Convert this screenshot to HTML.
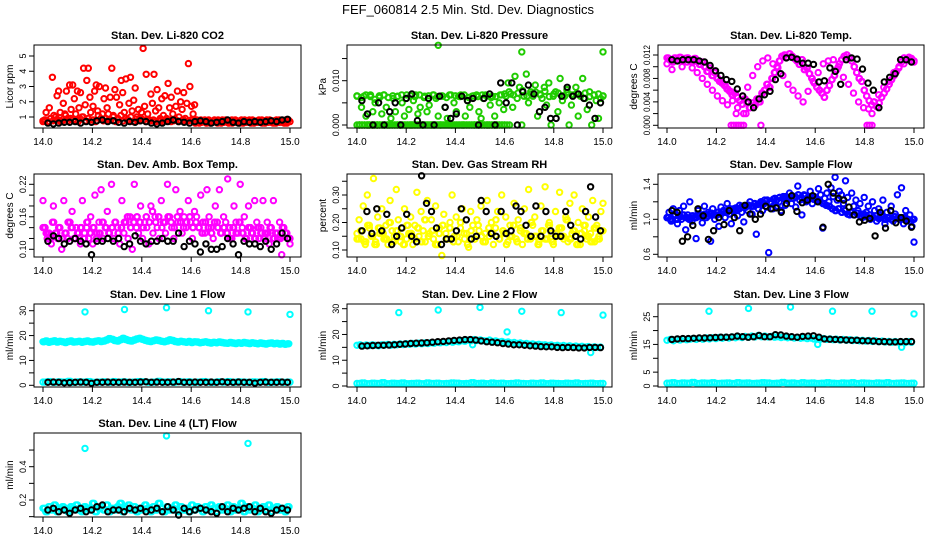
<!DOCTYPE html>
<html><head><meta charset="utf-8"><style>
html,body{margin:0;padding:0;background:#fff}
svg{display:block}
text{font-family:"Liberation Sans",Arial,sans-serif}
</style></head><body>
<svg id="chart" width="936" height="540" viewBox="0 0 936 540" xmlns="http://www.w3.org/2000/svg">
<rect x="0" y="0" width="936" height="540" fill="#fff"/>
<text x="468" y="14" text-anchor="middle" font-size="13">FEF_060814  2.5 Min. Std. Dev. Diagnostics</text>
</svg>
<script>
// ---- data arrays ----
const xTicks=[14.0,14.2,14.4,14.6,14.8,15.0];
const xTickLabels=['14.0','14.2','14.4','14.6','14.8','15.0'];

const co2Red=[0.7,0.8,1.3,0.7,1.6,0.9,3.6,1.1,0.8,2.4,2.7,1.3,0.7,1.9,1.2,2.7,0.9,3.1,1.5,3.1,2.2,0.8,2.7,1.6,2.6,1.0,4.2,1.8,3.4,4.2,2.3,0.8,1.7,2.7,3.1,1.4,3.0,0.9,1.2,2.2,2.9,1.6,0.8,2.3,4.2,1.1,2.8,2.3,0.9,1.8,3.4,2.6,1.3,3.5,0.8,1.9,3.6,1.4,2.1,2.9,1.0,1.5,0.9,1.3,5.5,1.7,3.8,1.2,0.8,2.5,1.9,3.8,1.4,2.8,1.6,0.9,2.2,1.1,2.4,0.9,3.2,1.6,2.3,1.2,0.8,1.7,2.7,1.0,2.0,1.5,2.6,0.9,1.9,4.5,3.0,1.7,1.2,1.8,0.8,
0.7,0.6,0.8,0.7,0.75,0.65,0.7,0.8,0.6,0.7,0.75,0.7,0.65,0.8,0.7,0.6,0.75,0.7,0.8,0.65,0.7,0.75,0.6,0.7,0.8,0.7,0.65,0.75,0.7,0.6,0.8,0.7,0.75,0.65,0.7,0.8,0.6,0.7,0.75,0.7,0.65,0.8,0.7,0.6,0.75,0.7,0.8,0.65,0.7,0.75,0.6,0.7,0.8,0.7,0.65,0.75,0.7,0.6,0.8,0.7];
const co2RedBase=[0.75,0.8,0.7,0.9,0.75,1.0,0.8,0.7,0.85,1.1,0.75,0.9,0.8,1.2,0.7,0.85,1.0,0.75,0.9,1.3,0.8,0.7,1.1,0.85,0.75,0.9,1.2,0.8,1.0,0.7,0.85,1.1,0.75,0.9,0.8,1.0,0.7,0.85,0.75,0.9,0.8,0.7,0.85,0.75,0.8,0.7,0.75,0.8,0.7,0.75,0.8,0.7,0.75,0.8,0.7,0.75,0.8,0.7,0.75,0.8];
const co2Black=[0.6,0.55,0.6,0.65,0.65,0.7,0.6,0.7,0.65,0.75,0.8,0.7,0.75,0.65,0.6,0.7,0.65,0.75,0.7,0.6,0.55,0.6,0.7,0.8,0.7,0.65,0.6,0.7,0.75,0.7,0.6,0.65,0.7,0.8,0.65,0.6,0.7,0.65,0.7,0.65,0.7,0.75,0.7,0.8,0.85];

const presGreen=[0.0065,0,0.004,0.0065,0.002,0,0.0068,0.003,0.005,0,0.0062,0.0025,0.0068,0.004,0,0.0015,0.006,0.003,0.0065,0,0.005,0.002,0.0068,0.0035,0,0.0055,0.0068,0.0025,0.004,0,0.0065,0.003,0.0045,0,0.0068,0.006,0.002,0,0.0065,0.004,0.0015,0.0068,0,0.005,0.003,0.0065,0.0068,0,0.002,0.0055,0.004,0.0065,0,0.0068,0.003,0.0015,0.006,0.0068,0,0.0045,0.0065,0.002,0,0.005,0.0068,0.0035,
0.0065,0.0095,0.007,0.004,0.011,0.006,0.0085,0,0.0065,0.0115,0.005,0.0075,0.0065,0.009,0.002,0.007,0.006,0.0085,0.0045,0.0095,0,0.0065,0.0075,0.003,0.0105,0.0055,0.0065,0.008,0,0.0045,0.0068,0.0085,0.002,0.0065,0.0105,0.006,0.0035,0.0075,0,0.0068,0.0055,0.0015,0.006,0.0065];
const presGreen2=[0.0066,0.0062,0.0068,0.0064,0.0058,0.0066,0.0068,0.0062,0.0066,0.0064,0.0068,0.006,0.0066,0.0064,0.0068,0.0062,0.0066,0.0068,0.0064,0.0066,0.0062,0.0068,0.0066,0.0064,0.0068,0.0062,0.0066,0.0064,0.0068,0.0066,0.0062,0.0064,0.0068,0.007,0.0075,0.0068,0.0072,0.0078,0.0065,0.007,0.0074,0.0068,0.0076,0.0064,0.007,0.0072,0.0066,0.0074,0.0068,0.007,0.0066,0.0072,0.0064,0.0068,0.007,0.0066];
const presGreenZero=[0,0,0,0,0,0,0,0,0,0,0,0,0,0,0,0,0,0,0,0,0,0,0,0,0,0,0,0,0,0,0,0,0,0,0,0,0,0,0,0,0,0,0,0,0,0,0,0,0,0,0,0,0,0,0,0,0,0,0,0];
const presOutX=[14.33,14.67,15.0];
const presOutY=[0.018,0.0165,0.0165];
const presBlack=[0.0055,0.0025,0,0.005,0,0.003,0.005,0,0.006,0.007,0.001,0,0.006,0,0.0065,0.004,0.0015,0.0025,0.0065,0.0055,0.006,0,0.006,0.007,0,0.0095,0.005,0.0095,0,0.0075,0.009,0.007,0.003,0.004,0.0015,0.0015,0.0065,0.0085,0.0065,0.007,0.006,0.0045,0.0015,0.005];

const tempMag=[0.0115,0.0112,0.0108,0.0115,0.0112,0.0116,0.0110,0.0114,0.0115,0.0112,0.0108,0.0114,0.0110,0.0104,0.0108,0.0100,0.0092,0.0098,0.0085,0.0090,0.0080,0.0075,0.0072,0.0068,0.0062,0.0058,0.0052,0.0055,0.0048,0.0042,0.0036,0.0045,0.0040,0.0030,0.0038,0.0034,0.0045,0.0040,0.0055,0.0060,0.0070,0.0065,0.0080,0.0090,0.0100,0.0110,0.0118,0.0120,0.0116,0.0122,0.0118,0.0114,0.0110,0.0104,0.0112,0.0095,0.0098,0.0088,0.0080,0.0072,0.0065,0.0060,0.0055,0.0048,0.0060,0.0068,0.0078,0.0085,0.0095,0.0105,0.0112,0.0118,0.0120,0.0115,0.0110,0.0100,0.0090,0.0080,0.0075,0.0060,0.0050,0.0042,0.0035,0.0040,0.0032,0.0038,0.0048,0.0055,0.0062,0.0070,0.0078,0.0085,0.0092,0.0100,0.0108,0.0115,0.0112,0.0116,0.0114,0.0110];
const tempMag2=[0.0105,0.0095,0.0112,0.0100,0.0108,0.0098,0.0090,0.0080,0.0070,0.0060,0.0050,0.0042,0.0035,0.0042,0.0030,0.0050,0.0065,0.0085,0.0100,0.0110,0.0115,0.0105,0.0098,0.0085,0.0070,0.0060,0.0050,0.0040,0.0058,0.0075,0.0090,0.0105,0.0110,0.0112,0.0100,0.0082,0.0070,0.0055,0.0040,0.0030,0.0028,0.0040,0.0052,0.0065,0.0075,0.0090,0.0098,0.0105,0.0112,0.0108];
const tempOutX=[14.26,14.27,14.28,14.29,14.30,14.31,14.38,14.81,14.82,14.83,14.28,14.31,14.32,14.83];
const tempOutY=[0,0,0,0,0,0,0,0,0,0,0.002,0.002,0.002,0.002];
const tempBlack=[0.0112,0.0110,0.0112,0.0112,0.0112,0.0110,0.0108,0.0102,0.0093,0.0085,0.0078,0.0075,0.0062,0.0050,0.0040,0.0030,0.0045,0.0052,0.0058,0.0078,0.0088,0.0115,0.0116,0.0113,0.0106,0.0106,0.0104,0.0074,0.0076,0.0098,0.0092,0.0070,0.0112,0.0115,0.0113,0.0096,0.0072,0.0060,0.0030,0.0074,0.0082,0.0088,0.0112,0.0112,0.0108];

const ambMag=[0.19,0.14,0.12,0.13,0.11,0.18,0.13,0.12,0.14,0.10,0.19,0.13,0.12,0.15,0.17,0.12,0.14,0.13,0.11,0.19,0.13,0.14,0.12,0.16,0.11,0.20,0.13,0.15,0.21,0.12,0.14,0.17,0.13,0.22,0.12,0.15,0.14,0.11,0.19,0.13,0.15,0.12,0.16,0.10,0.22,0.14,0.13,0.18,0.12,0.15,0.14,0.11,0.18,0.13,0.16,0.14,0.12,0.19,0.15,0.13,0.22,0.16,0.14,0.12,0.21,0.15,0.17,0.13,0.16,0.14,0.19,0.15,0.12,0.17,0.16,0.14,0.20,0.15,0.13,0.21,0.16,0.14,0.12,0.18,0.15,0.21,0.13,0.16,0.15,0.23,0.14,0.12,0.18,0.15,0.13,0.22,0.14,0.16,0.12,0.18,0.14,0.13,0.19,0.15,0.12,0.14,0.19,0.13,0.15,0.11,0.14,0.19,0.13,0.12,0.15,0.09,0.14,0.13,0.12,0.11];
const ambMag2=[0.14,0.13,0.12,0.15,0.13,0.14,0.12,0.13,0.15,0.14,0.12,0.13,0.14,0.12,0.15,0.13,0.14,0.12,0.13,0.15,0.14,0.13,0.14,0.15,0.13,0.14,0.15,0.16,0.14,0.15,0.16,0.15,0.14,0.16,0.15,0.17,0.15,0.16,0.14,0.15,0.16,0.15,0.14,0.16,0.15,0.14,0.15,0.16,0.14,0.15,0.14,0.13,0.15,0.14,0.13,0.15,0.14,0.13,0.14,0.13,0.12,0.14,0.13,0.15,0.13,0.12,0.14,0.13,0.12,0.14,0.13,0.12,0.13,0.14,0.12,0.13,0.12,0.14,0.13,0.12];
const ambBlack=[0.115,0.125,0.12,0.11,0.115,0.12,0.115,0.11,0.09,0.115,0.115,0.12,0.115,0.12,0.105,0.11,0.125,0.115,0.11,0.115,0.115,0.12,0.115,0.115,0.13,0.105,0.115,0.11,0.095,0.11,0.1,0.1,0.105,0.12,0.11,0.09,0.115,0.11,0.11,0.105,0.115,0.1,0.11,0.13,0.12];

const rhYellow=[0.16,0.21,0.14,0.26,0.12,0.30,0.18,0.15,0.36,0.13,0.22,0.16,0.25,0.14,0.19,0.12,0.28,0.17,0.15,0.32,0.21,0.13,0.18,0.25,0.14,0.16,0.22,0.12,0.19,0.31,0.15,0.24,0.17,0.13,0.28,0.16,0.21,0.14,0.26,0.12,0.18,0.08,0.23,0.16,0.14,0.20,0.30,0.15,0.22,0.13,0.18,0.25,0.14,0.16,0.11,0.24,0.19,0.14,0.21,0.17,0.26,0.13,0.16,0.28,0.15,0.20,0.12,0.18,0.24,0.14,0.30,0.16,0.22,0.13,0.19,0.15,0.27,0.14,0.21,0.17,0.12,0.25,0.16,0.32,0.14,0.19,0.22,0.15,0.13,0.26,0.17,0.33,0.14,0.20,0.16,0.12,0.24,0.15,0.31,0.18,0.14,0.22,0.13,0.27,0.16,0.30,0.15,0.20,0.12,0.25,0.17,0.14,0.22,0.16,0.28,0.13,0.19,0.15,0.24,0.27];
const rhYellow2=[0.14,0.17,0.13,0.19,0.15,0.12,0.18,0.16,0.14,0.20,0.13,0.17,0.15,0.12,0.19,0.16,0.14,0.18,0.13,0.21,0.15,0.17,0.12,0.16,0.19,0.14,0.18,0.13,0.15,0.20,0.16,0.12,0.17,0.14,0.19,0.15,0.13,0.18,0.16,0.21,0.14,0.17,0.12,0.15,0.19,0.13,0.18,0.16,0.14,0.20,0.15,0.12,0.17,0.14,0.19,0.13,0.16,0.18,0.15,0.21,0.14,0.17,0.12,0.16,0.19,0.15,0.13,0.18,0.14,0.17];
const rhBlack=[0.17,0.24,0.16,0.25,0.17,0.23,0.12,0.15,0.18,0.23,0.15,0.13,0.37,0.27,0.24,0.18,0.12,0.14,0.14,0.17,0.25,0.21,0.14,0.15,0.28,0.24,0.16,0.15,0.24,0.16,0.17,0.26,0.24,0.19,0.15,0.26,0.15,0.24,0.17,0.15,0.15,0.24,0.19,0.15,0.14,0.24,0.33,0.22,0.17];

const flowBlue=[1.02,1.08,0.98,1.12,1.05,0.95,1.10,1.00,1.15,0.88,1.05,1.20,0.98,1.02,0.78,1.10,1.05,0.96,1.15,1.02,1.08,0.75,1.12,1.00,1.05,0.92,1.14,1.08,1.02,1.18,1.06,0.95,1.12,1.10,1.04,1.16,1.08,0.97,1.14,1.10,1.20,1.06,1.15,0.83,1.12,1.18,1.10,1.22,1.14,0.62,1.18,1.12,1.24,1.15,1.20,1.10,1.26,1.16,1.22,1.30,1.18,1.24,1.14,1.38,1.22,1.05,1.28,1.20,1.25,1.32,1.18,1.26,1.22,1.35,1.28,0.90,1.24,1.30,1.20,1.36,1.26,1.48,1.22,1.32,1.28,1.18,1.44,1.25,1.05,1.30,1.15,1.22,1.10,1.18,1.02,1.25,1.08,1.15,1.00,1.20,1.10,0.98,1.12,1.05,1.22,0.95,1.08,1.02,1.15,0.98,1.06,1.28,1.02,1.36,0.95,1.10,1.00,1.05,0.92,0.74];
const flowBlue2=[1.02,1.0,1.04,1.0,1.03,1.05,1.02,1.0,1.04,1.02,1.05,1.03,1.06,1.04,1.07,1.05,1.08,1.06,1.1,1.08,1.12,1.1,1.13,1.12,1.15,1.14,1.16,1.15,1.18,1.17,1.2,1.18,1.22,1.2,1.23,1.22,1.25,1.24,1.26,1.25,1.27,1.26,1.28,1.25,1.27,1.24,1.26,1.23,1.22,1.2,1.18,1.16,1.15,1.12,1.1,1.12,1.08,1.1,1.06,1.08,1.05,1.07,1.04,1.06,1.03,1.05,1.02,1.04,1.01,1.03,1.0,1.02,1.0,1.03,1.01,1.0,1.02,1.0,0.98,1.0];
const flowBlack=[1.1,1.08,0.75,0.80,0.93,1.12,1.04,0.77,0.87,1.02,0.94,1.10,1.02,0.87,1.16,1.06,1.00,1.06,1.15,1.12,1.13,1.08,1.18,1.27,1.09,1.19,1.22,1.27,1.20,0.91,1.40,1.30,1.24,1.22,1.14,1.05,0.97,0.99,1.01,0.81,1.08,0.90,1.10,0.96,1.02,0.98,0.91];

const l1Cyan=[17.5,17.8,17.3,17.6,17.9,17.4,17.7,17.5,17.2,17.6,17.8,17.4,17.5,17.7,17.3,17.6,17.8,17.5,17.4,17.7,17.9,17.6,17.8,18.2,18.8,18.5,18.0,17.8,18.3,18.9,18.4,18.0,17.8,18.2,18.6,18.9,18.5,18.1,17.8,17.6,17.9,18.2,18.0,17.7,17.5,17.8,18.3,18.0,17.6,17.4,17.7,17.5,17.3,17.6,17.2,17.5,17.4,17.1,17.3,17.5,17.2,17.0,17.3,17.1,17.4,17.2,17.0,16.9,17.2,17.0,16.8,17.1,16.9,17.2,17.0,16.8,17.1,16.9,16.7,17.0,16.8,16.6,16.9,17.0,16.7,16.9,16.6,16.8,16.5,16.7];
const l1CyanLow=[1.3,1.5,1.2,1.4,1.3,1.6,1.2,1.4,1.3,1.5,1.2,1.3,1.4,1.2,1.5,1.3,1.4,1.2,1.3,1.5,1.4,1.2,1.3,1.6,1.3,1.4,1.2,1.5,1.3,1.4,1.2,1.3,1.5,1.3,1.2,1.4,1.3,1.5,1.2,1.4,1.3,1.2,1.4,1.3,1.5,1.2,1.3,1.4,1.2,1.3];
const l1OutX=[14.17,14.33,14.5,14.67,14.83,15.0];
const l1OutY=[29.5,30.5,31.2,30.0,29.5,28.5];
const l1Black=[1.2,1.3,1.2,1.0,1.1,1.2,1.3,1.2,0.8,1.2,1.2,1.3,1.2,1.2,1.3,1.2,1.2,1.3,1.4,1.2,1.3,1.2,1.2,1.3,1.5,1.2,1.2,1.3,1.2,1.2,1.3,1.2,1.4,1.2,1.2,1.3,1.2,1.2,0.9,1.2,1.3,1.2,1.2,1.3,1.2];

const l2Cyan=[15.8,16.0,15.6,15.9,15.7,16.0,15.8,15.6,16.0,15.9,16.1,15.8,16.2,16.0,16.3,16.1,16.4,16.2,16.5,16.3,16.6,16.4,16.7,16.5,16.8,16.6,17.0,16.8,17.1,16.9,17.3,17.0,17.4,17.2,17.6,17.4,17.8,17.6,18.0,17.7,17.9,17.6,17.5,17.8,17.3,17.5,17.1,17.3,16.9,17.1,16.7,16.9,16.5,16.7,16.3,16.5,16.2,16.3,16.0,16.2,15.9,16.0,15.7,15.9,15.6,15.8,15.5,15.7,15.4,15.6,15.3,15.5,15.2,15.4,15.1,15.3,15.0,15.2,15.0,15.1];
const l2CyanLow=[1.0,1.2,0.9,1.1,1.0,1.3,0.9,1.1,1.0,1.2,0.9,1.0,1.1,0.9,1.2,1.0,1.1,0.9,1.0,1.2,1.1,0.9,1.0,1.3,1.0,1.1,0.9,1.2,1.0,1.1,0.9,1.0,1.2,1.0,0.9,1.1,1.0,1.2,0.9,1.1,1.0,0.9,1.1,1.0,1.2,0.9,1.0,1.1,0.9,1.0];
const l2OutX=[14.17,14.33,14.5,14.67,14.83,15.0,14.61,14.47,14.95];
const l2OutY=[28.5,29.5,30.5,29.0,28.5,27.5,21.0,16.0,13.0];
const l2Black=[15.5,15.6,15.7,15.8,15.8,15.9,16.0,16.2,16.3,16.5,16.6,16.7,16.8,17.0,17.2,17.3,17.5,17.7,17.8,18.0,18.0,17.8,17.5,17.2,17.0,16.8,16.5,16.3,16.0,16.0,15.8,15.6,15.5,15.3,15.2,15.2,15.0,14.9,15.0,14.9,14.8,14.8,15.0,15.0,14.9];

const l3Cyan=[16.5,16.8,16.3,16.9,16.6,17.0,16.7,16.9,17.1,16.8,17.2,16.9,17.3,17.0,17.4,17.1,17.5,17.2,17.6,17.3,17.7,17.4,17.8,17.5,17.9,17.6,18.0,17.7,18.2,17.8,18.0,17.7,17.9,17.6,17.8,17.5,17.7,17.4,17.6,17.3,17.5,17.2,17.4,17.1,17.3,17.0,17.2,16.9,17.1,16.8,17.0,16.7,16.9,16.6,16.8,16.5,16.7,16.4,16.6,16.3,16.5,16.2,16.4,16.1,16.3,16.0,16.2,15.9,16.1,15.8,16.0,15.8,15.9,15.7,16.0,15.8];
const l3CyanLow=[1.0,1.2,0.9,1.1,1.0,1.3,0.9,1.1,1.0,1.2,0.9,1.0,1.1,0.9,1.2,1.0,1.1,0.9,1.0,1.2,1.1,0.9,1.0,1.3,1.0,1.1,0.9,1.2,1.0,1.1,0.9,1.0,1.2,1.0,0.9,1.1,1.0,1.2,0.9,1.1,1.0,0.9,1.1,1.0,1.2,0.9,1.0,1.1,0.9,1.0];
const l3OutX=[14.17,14.33,14.5,14.67,14.83,15.0,14.61,14.95];
const l3OutY=[27.0,28.0,28.5,27.0,27.0,26.0,15.0,14.0];
const l3Black=[16.8,17.0,17.1,17.1,17.2,17.3,17.3,17.4,17.5,17.6,17.6,17.7,18.0,17.8,17.6,17.8,18.2,17.8,17.8,18.5,18.4,18.0,17.8,17.6,17.9,18.0,18.1,17.6,17.0,16.9,16.8,16.7,16.6,16.5,16.5,16.3,16.3,16.2,16.0,16.0,15.9,15.9,16.0,16.0,16.0];

const l4Cyan=[0.15,0.13,0.16,0.14,0.17,0.13,0.15,0.16,0.14,0.13,0.16,0.15,0.17,0.14,0.13,0.16,0.15,0.14,0.18,0.13,0.15,0.16,0.14,0.17,0.13,0.15,0.14,0.16,0.18,0.13,0.15,0.17,0.14,0.16,0.13,0.15,0.14,0.17,0.15,0.13,0.16,0.14,0.18,0.15,0.13,0.16,0.14,0.15,0.17,0.13,0.16,0.14,0.15,0.13,0.17,0.14,0.16,0.15,0.13,0.16,0.14,0.17,0.15,0.13,0.16,0.14,0.15,0.17,0.13,0.16,0.14,0.15,0.18,0.13,0.16,0.14,0.15,0.17,0.13,0.15,0.16,0.14,0.17,0.13,0.15,0.16,0.14,0.15,0.13,0.16];
const l4OutX=[14.17,14.5,14.83];
const l4OutY=[0.51,0.585,0.54];
const l4Black=[0.14,0.15,0.13,0.14,0.12,0.14,0.15,0.13,0.14,0.16,0.17,0.13,0.14,0.14,0.13,0.15,0.14,0.15,0.13,0.14,0.15,0.13,0.16,0.14,0.11,0.15,0.13,0.14,0.15,0.14,0.13,0.12,0.16,0.13,0.15,0.14,0.15,0.16,0.13,0.15,0.13,0.12,0.14,0.15,0.14];

// ---- layout (positions only) ----
const cols=[{x0:43,x1:290,L:34,R:301},{x0:357,x1:603,L:347,R:612},{x0:667,x1:914,L:658,R:924}];
const rows=[{T:45,B:128},{T:174,B:257},{T:304,B:387},{T:433,B:517}];
const C={red:'#ff0000',green:'#1fcc00',mag:'#ff00ff',yel:'#ffff00',blue:'#0000ff',cyan:'#00ffff',blk:'#000000'};

function ev(arr,a,b){return arr.map((v,i)=>({x:a+(b-a)*i/(arr.length-1),y:v}));}
function xy(xs,ys){return xs.map((x,i)=>({x:x,y:ys[i]}));}

const panels=[
 {id:'co2',title:'Stan. Dev. Li-820 CO2',ylab:'Licor ppm',c:0,r:0,ya:[1,117],yb:[5,56],ticks:[1,2,3,4,5],tl:['1','2','3','4','5'],
  series:[[ev(co2RedBase,14,14.6),C.red],[ev(co2Red,14,15),C.red],[ev(co2Red.slice(99),14.61,14.99),C.red],[ev(co2Black,14.02,14.99),C.blk]]},
 {id:'pressure',title:'Stan. Dev. Li-820 Pressure',ylab:'kPa',c:1,r:0,ya:[0,125],yb:[0.01,80.7],ticks:[0,0.005,0.01,0.015],tl:['0.000','','0.010',''],
  series:[[ev(presGreenZero,14,14.6),C.green],[ev(presGreenZero,14.01,14.62),C.green],[ev(presGreen2,14,15),C.green],[ev(presGreen,14,15),C.green],[xy(presOutX,presOutY),C.green],[ev(presBlack,14.02,14.99),C.blk]]},
 {id:'temp',title:'Stan. Dev. Li-820 Temp.',ylab:'degrees C',c:2,r:0,ya:[0,125.3],yb:[0.012,55],ticks:[0,0.002,0.004,0.006,0.008,0.010,0.012],tl:['0.000','','0.004','','0.008','','0.012'],tlw:20,
  series:[[ev(tempMag,14,15),C.mag],[ev(tempMag,14.005,15.0),C.mag],[ev(tempMag2,14,15),C.mag],[xy(tempOutX,tempOutY),C.mag],[ev(tempBlack,14.02,14.99),C.blk]]},
 {id:'ambbox',title:'Stan. Dev. Amb. Box Temp.',ylab:'degrees C',c:0,r:1,ya:[0.10,249.3],yb:[0.22,184.3],ticks:[0.10,0.12,0.14,0.16,0.18,0.20,0.22],tl:['0.10','','','0.16','','','0.22'],
  series:[[ev(ambMag2,14,15),C.mag],[ev(ambMag2,14.006,14.994),C.mag],[ev(ambMag,14,15),C.mag],[ev(ambBlack,14.02,14.99),C.blk]]},
 {id:'rh',title:'Stan. Dev. Gas Stream RH',ylab:'percent',c:1,r:1,ya:[0.10,250],yb:[0.30,195],ticks:[0.10,0.15,0.20,0.25,0.30,0.35],tl:['0.10','','0.20','','0.30',''],
  series:[[ev(rhYellow2,14,15),C.yel],[ev(rhYellow2,14.007,14.993),C.yel],[ev(rhYellow,14,15),C.yel],[ev(rhBlack,14.02,14.99),C.blk]]},
 {id:'sampleflow',title:'Stan. Dev. Sample Flow',ylab:'ml/min',c:2,r:1,ya:[0.6,254.3],yb:[1.4,184.3],ticks:[0.6,0.8,1.0,1.2,1.4],tl:['0.6','','1.0','','1.4'],
  series:[[ev(flowBlue2,14,15),C.blue],[ev(flowBlue2,14.006,14.994),C.blue],[ev(flowBlue,14,15),C.blue],[ev(flowBlack,14.02,14.99),C.blk]]},
 {id:'line1',title:'Stan. Dev. Line 1 Flow',ylab:'ml/min',c:0,r:2,ya:[0,385.3],yb:[30,310.7],ticks:[0,5,10,15,20,25,30],tl:['0','','10','','20','','30'],
  series:[[ev(l1Cyan,14,14.99),C.cyan],[ev(l1Cyan,14.005,14.995),C.cyan],[ev(l1CyanLow,14,14.99),C.cyan],[ev(l1CyanLow,14.01,15.0),C.cyan],[xy(l1OutX,l1OutY),C.cyan],[ev(l1Black,14.02,14.99),C.blk]]},
 {id:'line2',title:'Stan. Dev. Line 2 Flow',ylab:'ml/min',c:1,r:2,ya:[0,386],yb:[30,308.7],ticks:[0,5,10,15,20,25,30],tl:['0','','10','','20','','30'],
  series:[[ev(l2Cyan,14,14.99),C.cyan],[ev(l2CyanLow,14,14.99),C.cyan],[ev(l2CyanLow,14.01,15.0),C.cyan],[xy(l2OutX,l2OutY),C.cyan],[ev(l2Black,14.02,14.99),C.blk]]},
 {id:'line3',title:'Stan. Dev. Line 3 Flow',ylab:'ml/min',c:2,r:2,ya:[0,386],yb:[25,316.7],ticks:[0,5,10,15,20,25],tl:['0','5','','15','','25'],
  series:[[ev(l3Cyan,14,14.99),C.cyan],[ev(l3CyanLow,14,14.99),C.cyan],[ev(l3CyanLow,14.01,15.0),C.cyan],[xy(l3OutX,l3OutY),C.cyan],[ev(l3Black,14.02,14.99),C.blk]]},
 {id:'line4',title:'Stan. Dev. Line 4 (LT) Flow',ylab:'ml/min',c:0,r:3,ya:[0.2,500],yb:[0.4,466.7],ticks:[0.1,0.2,0.3,0.4,0.5],tl:['','0.2','','0.4',''],
  series:[[ev(l4Cyan,14,14.99),C.cyan],[ev(l4Cyan,14.006,14.996),C.cyan],[xy(l4OutX,l4OutY),C.cyan],[ev(l4Black,14.02,14.99),C.blk]]}
];

const NS='http://www.w3.org/2000/svg';
const svg=document.getElementById('chart');
function mk(tag,attrs,parent){const e=document.createElementNS(NS,tag);for(const k in attrs)e.setAttribute(k,attrs[k]);parent.appendChild(e);return e;}

panels.forEach(p=>{
  const col=cols[p.c],row=rows[p.r];
  const xs=v=>col.x0+(v-14)*(col.x1-col.x0);
  const ys=v=>p.ya[1]+(v-p.ya[0])*(p.yb[1]-p.ya[1])/(p.yb[0]-p.ya[0]);
  const g=mk('g',{},svg);
  
  
  const t=mk('text',{x:(col.L+col.R)/2,y:row.T-6,'text-anchor':'middle','font-size':11,'font-weight':'bold'},g);
  t.textContent=p.title;
  
  
  const pts=mk('g',{fill:'none','stroke-width':2},g);
  
  
  p.series.forEach(s=>{
    s[0].forEach(d=>{
      const cy=ys(d.y);
      if(cy<row.T-2||cy>row.B+2)return;
      const c=mk('circle',{cx:xs(d.x).toFixed(1),cy:cy.toFixed(1),r:2.7,stroke:s[1]},pts);
      
      
    });
  });
  const b=mk('rect',{x:col.L,y:row.T,width:col.R-col.L,height:row.B-row.T,fill:'none',stroke:'#000','stroke-width':1},g);
  
  
  const xa=mk('g',{},g);
  
  
  xTicks.forEach((v,i)=>{
    const x=xs(v);
    mk('line',{x1:x,x2:x,y1:row.B,y2:row.B+5,stroke:'#000'},xa);
    const tx=mk('text',{x:x,y:row.B+17,'text-anchor':'middle','font-size':10},xa);
    tx.textContent=xTickLabels[i];
    
    
  });
  const ya=mk('g',{},g);
  
  
  p.ticks.forEach((v,i)=>{
    const y=ys(v);
    mk('line',{x1:col.L-5,x2:col.L,y1:y,y2:y,stroke:'#000'},ya);
    if(p.tl[i]){
      const attrs={x:0,y:0,'text-anchor':'middle','font-size':9,transform:`translate(${col.L-8},${y}) rotate(-90)`};
      if(p.tlw){attrs.textLength=p.tlw;attrs.lengthAdjust='spacingAndGlyphs';}
      const tx=mk('text',attrs,ya);
      tx.textContent=p.tl[i];
      
      
    }
  });
  const yl=mk('text',{x:0,y:0,'text-anchor':'middle','font-size':10,transform:`translate(${col.L-21},${(row.T+row.B)/2}) rotate(-90)`},g);
  yl.textContent=p.ylab;
  
  
});
</script>
</body></html>
